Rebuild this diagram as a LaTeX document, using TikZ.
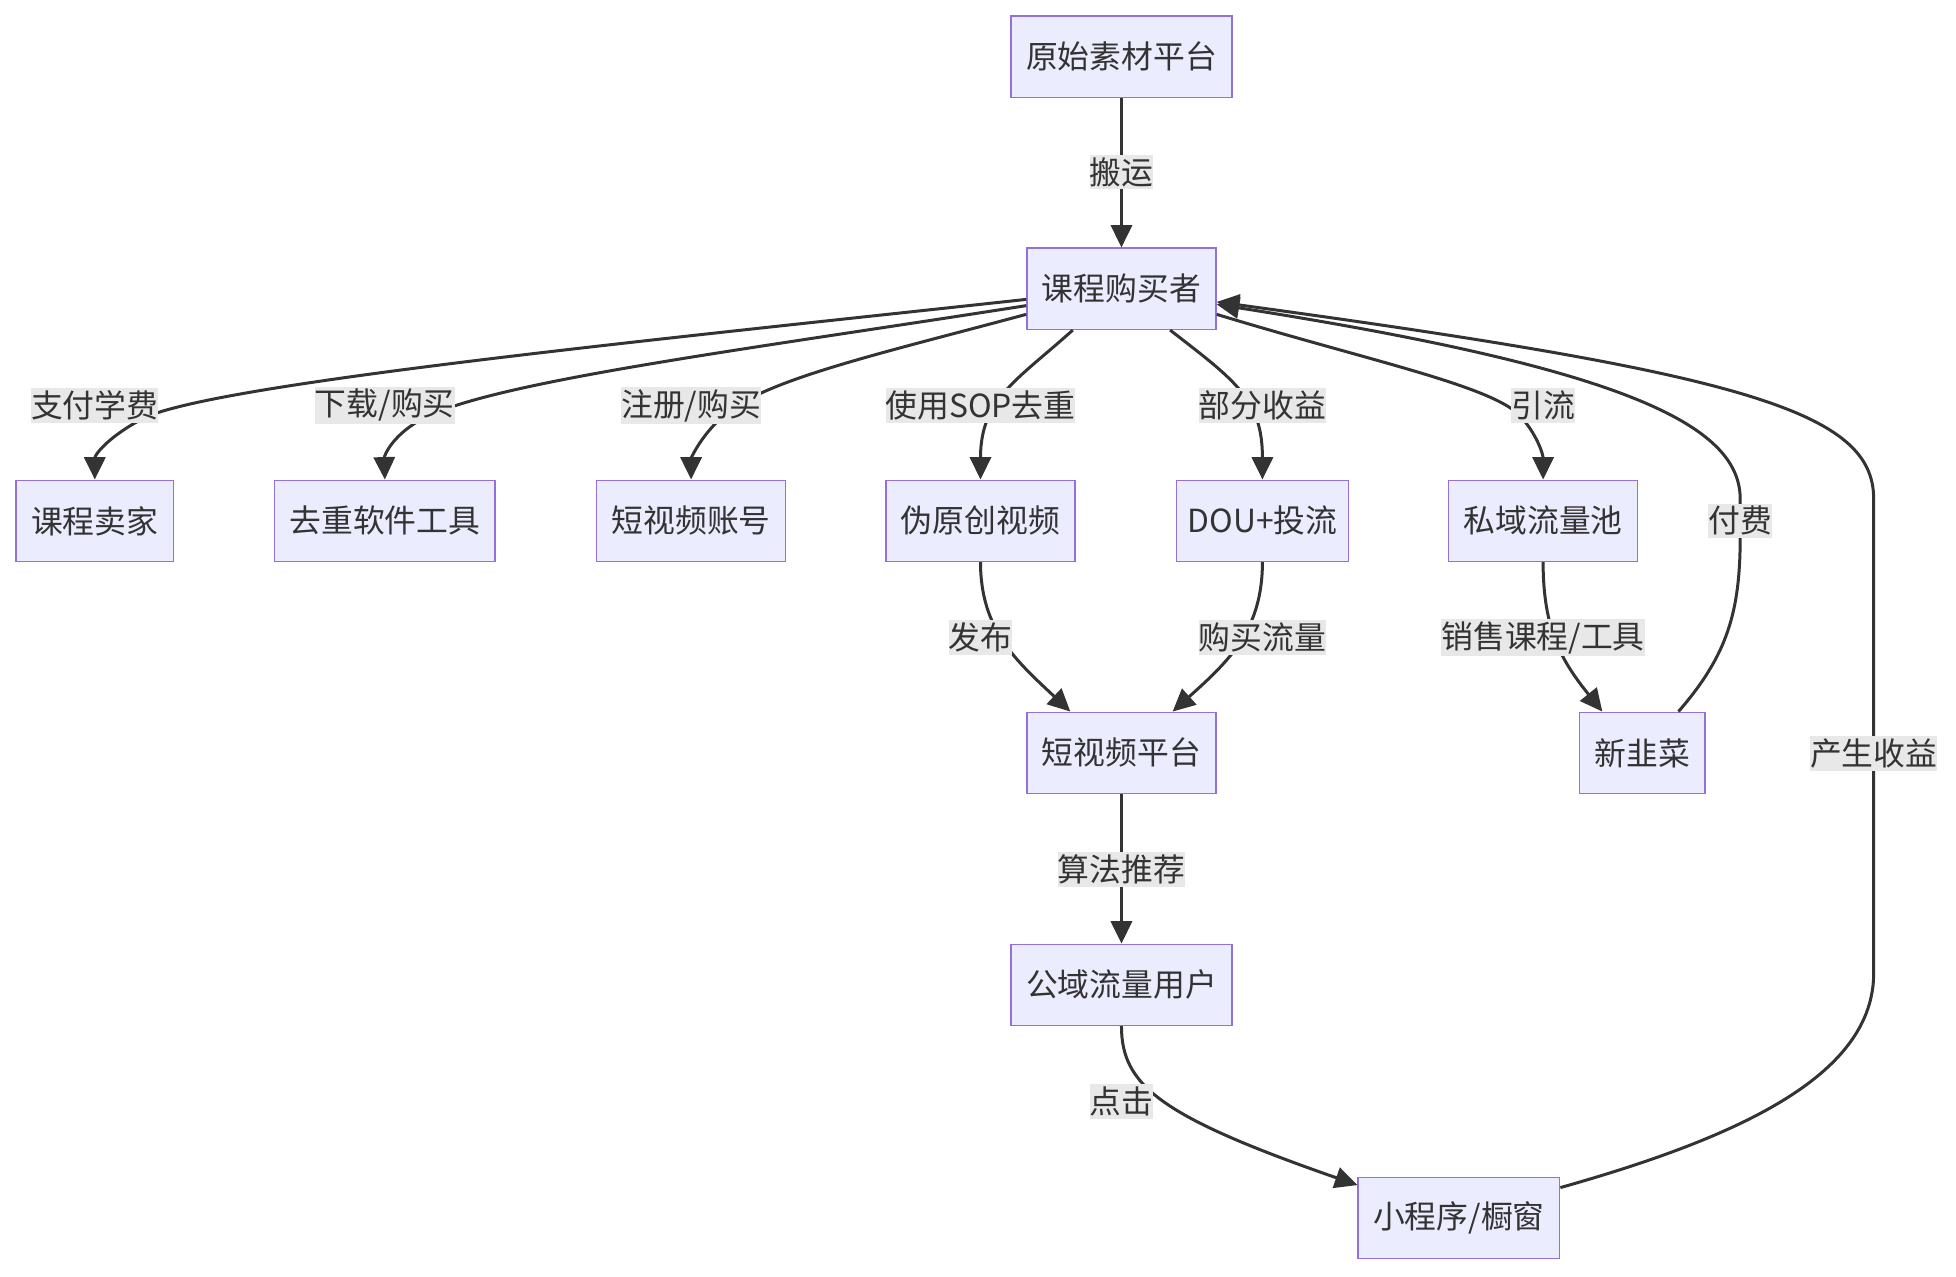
\documentclass[tikz,border=0pt]{standalone}
\usepackage{fontspec}
\setmainfont{Noto Sans CJK SC}
\usetikzlibrary{arrows.meta}
\definecolor{boxfill}{HTML}{ECECFF}
\definecolor{boxline}{HTML}{9370DB}
\definecolor{ink}{HTML}{333333}
\definecolor{lblbg}{HTML}{E8E8E8}
\begin{document}
\begin{tikzpicture}[x=1pt,y=-1pt,
  box/.style={draw=boxline,fill=boxfill,line width=1.2pt,rectangle,minimum height=65pt,inner xsep=12pt,inner ysep=0pt,text=ink,font=\fontsize{25.5}{30}\selectfont},
  lbl/.style={fill=lblbg,inner xsep=0pt,inner ysep=2pt,text=ink,font=\fontsize{25.5}{30}\selectfont},
  edge/.style={draw=ink,line width=2.4pt,-{Triangle[length=18pt,width=17pt]}}]
\useasboundingbox (0,0) rectangle (1568,1023);
\fill[white] (0,0) rectangle (1568,1023);
% nodes
\node[box] (src) at (899,45.5) {原始素材平台};
\node[box] (buyer) at (899,231.5) {课程购买者};
\node[box] (seller) at (76,417.5) {课程卖家};
\node[box] (tool) at (308.5,417.5) {去重软件工具};
\node[box] (acct) at (554,417.5) {短视频账号};
\node[box] (fake) at (786,417.5) {伪原创视频};
\node[box,inner xsep=9pt] (dou) at (1012,417.5) {DOU+投流};
\node[box] (pool) at (1237,417.5) {私域流量池};
\node[box] (plat) at (899,603.5) {短视频平台};
\node[box] (new) at (1316.5,603.5) {新韭菜};
\node[box] (pub) at (899,789.5) {公域流量用户};
\node[box] (mini) at (1169.5,976.5) {小程序/橱窗};
% edges
\draw[edge] (src.south) -- (buyer.north);
\draw[edge] ([yshift=-8.5pt]buyer.west) .. controls (500,275) and (150,310) .. (110,338) .. controls (85,352) and (76,365) .. (seller.north);
\draw[edge] ([yshift=-13.5pt]buyer.west) .. controls (600,280) and (400,305) .. (340,335) .. controls (315,348) and (308,365) .. (tool.north);
\draw[edge] ([yshift=-20.5pt]buyer.west) .. controls (700,285) and (610,305) .. (578,335) .. controls (560,352) and (554,368) .. (acct.north);
\draw[edge] ([xshift=-39pt]buyer.south) .. controls (815,305) and (786,320) .. (fake.north);
\draw[edge] ([xshift=39pt]buyer.south) .. controls (990,305) and (1012,320) .. (dou.north);
\draw[edge] ([yshift=-20.5pt]buyer.east) .. controls (1100,290) and (1200,310) .. (1220,335) .. controls (1233,350) and (1237,365) .. (pool.north);
\draw[edge] ([xshift=29pt]new.north) .. controls (1385,525) and (1395,490) .. (1395,430) -- (1395,400) .. controls (1395,340) and (1300,295) .. ([yshift=-12.5pt]buyer.east);
\draw[edge] ([yshift=24.5pt]mini.east) .. controls (1400,910) and (1502,860) .. (1502,780) -- (1502,400) .. controls (1502,330) and (1400,300) .. ([yshift=-10.5pt]buyer.east);
\draw[edge] (fake.south) .. controls (786,505) and (815,530) .. ([xshift=-41pt]plat.north);
\draw[edge] (dou.south) .. controls (1012,505) and (985,530) .. ([xshift=41pt]plat.north);
\draw[edge] (pool.south) .. controls (1237,505) and (1252,530) .. ([xshift=-32pt]new.north);
\draw[edge] (plat.south) -- (pub.north);
\draw[edge] (pub.south) .. controls (899,870) and (930,895) .. ([yshift=26.5pt]mini.west);
% labels
\node[lbl] (l1) at (899,138) {搬运};
\node[lbl] (l2) at (76,325) {支付学费};
\node[lbl] (l3) at (308.5,325) {下载/购买};
\node[lbl] (l4) at (554,325) {注册/购买};
\node[lbl] (l5) at (786,325) {使用SOP去重};
\node[lbl] (l6) at (1012,325) {部分收益};
\node[lbl] (l7) at (1237,325) {引流};
\node[lbl] (l8) at (1395,417.5) {付费};
\node[lbl] (l9) at (786,511) {发布};
\node[lbl] (l10) at (1012,511) {购买流量};
\node[lbl] (l11) at (1237,511) {销售课程/工具};
\node[lbl] (l12) at (899,697) {算法推荐};
\node[lbl] (l13) at (899,883) {点击};
\node[lbl] (l14) at (1502,604) {产生收益};
\end{tikzpicture}
\end{document}
